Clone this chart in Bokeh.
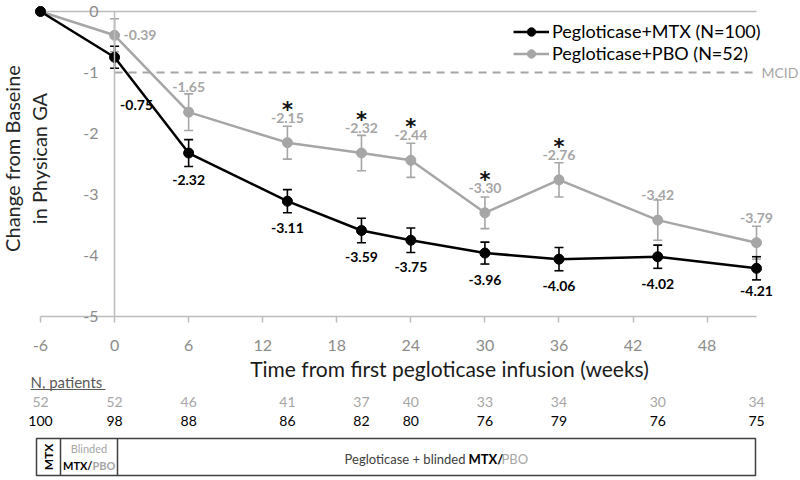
import math
from bokeh.plotting import figure
from bokeh.models import Range1d, FixedTicker, LinearAxis, Legend, LegendItem
from bokeh.core.properties import value
from bokeh.embed import file_html
from bokeh.resources import INLINE

# ---------------- data ----------------
weeks = [-6, 0, 6, 14, 20, 24, 30, 36, 44, 52]
mtx = [0, -0.75, -2.32, -3.11, -3.59, -3.75, -3.96, -4.06, -4.02, -4.21]
mtx_se = [0, 0.18, 0.22, 0.19, 0.20, 0.20, 0.18, 0.19, 0.19, 0.19]
pbo = [0, -0.39, -1.65, -2.15, -2.32, -2.44, -3.30, -2.76, -3.42, -3.79]
pbo_se = [0, 0.27, 0.30, 0.27, 0.29, 0.28, 0.26, 0.28, 0.33, 0.27]
sig_weeks = [14, 20, 24, 30, 36]
n_pbo = [52, 52, 46, 41, 37, 40, 33, 34, 30, 34]
n_mtx = [100, 98, 88, 86, 82, 80, 76, 79, 76, 75]
x_ticks = [-6, 0, 6, 12, 18, 24, 30, 36, 42, 48]
y_ticks = [0, -1, -2, -3, -4, -5]
mcid = -1
label_mtx = "Pegloticase+MTX (N=100)"
label_pbo = "Pegloticase+PBO (N=52)"
x_title = "Time from first pegloticase infusion (weeks)"
y_title = "Change from Baseine\nin Physican GA"

# ---------------- layout helpers (canvas pixel -> data) ----------------
W, H = 800, 480
PX = 12.345   # px per week
PY = 61.0     # px per unit
def px_x(px):
    return -6 + (px - 40) / PX
def px_y(py):
    return -(py - 11) / PY

FONT = value("Lato")
GRAY = "#a6a6a6"
AXG = "#bdbdbd"
TICKG = "#8c8c8c"

p = figure(width=W, height=H,
           x_range=Range1d(px_x(0), px_x(W)), y_range=Range1d(px_y(H), px_y(0)),
           min_border=0, toolbar_location=None, output_backend="svg",
           outline_line_color=None, x_axis_location=None, y_axis_location=None)
p.xgrid.visible = False
p.ygrid.visible = False

# axes
xaxis = LinearAxis(fixed_location=-5, bounds=(weeks[0], weeks[-1]),
                   ticker=FixedTicker(ticks=x_ticks))
xaxis.major_label_overrides = {t: str(t) for t in x_ticks}
xaxis.axis_line_color = AXG
xaxis.axis_line_width = 1.5
xaxis.major_tick_line_color = AXG
xaxis.major_tick_line_width = 1.5
xaxis.major_tick_out = 6
xaxis.major_tick_in = 0
xaxis.minor_tick_line_color = None
xaxis.major_label_standoff = 17
xaxis.major_label_text_font = "Lato"
xaxis.major_label_text_font_size = "16px"
xaxis.major_label_text_color = TICKG
p.add_layout(xaxis, "below")

yaxis = LinearAxis(fixed_location=0, bounds=(y_ticks[-1], y_ticks[0]),
                   ticker=FixedTicker(ticks=y_ticks))
yaxis.major_label_overrides = {t: str(t) for t in y_ticks}
yaxis.axis_line_color = AXG
yaxis.axis_line_width = 1.5
yaxis.major_tick_line_color = None
yaxis.major_tick_out = 0
yaxis.major_tick_in = 0
yaxis.minor_tick_line_color = None
yaxis.major_label_standoff = 16
yaxis.major_label_text_font = "Lato"
yaxis.major_label_text_font_size = "16px"
yaxis.major_label_text_color = TICKG
p.add_layout(yaxis, "left")

# axis titles
p.text(x=[px_x(449)], y=[px_y(368)], text=[x_title], text_align="center",
       text_baseline="middle", text_font=FONT, text_font_size="21px", text_color="#1a1a1a")
p.text(x=[px_x(25)], y=[px_y(158)], text=[y_title],
       angle=math.pi / 2, text_align="center", text_baseline="middle",
       text_font=FONT, text_font_size="20px", text_color="#262626", text_line_height=1.1)

# zero line and MCID
p.segment(x0=[weeks[0]], y0=[0], x1=[weeks[-1]], y1=[0], line_color=AXG, line_width=1.5)
p.segment(x0=[0], y0=[mcid], x1=[weeks[-1]], y1=[mcid], line_color=GRAY, line_width=2,
          line_dash="8 6")
p.text(x=[weeks[-1]], y=[mcid], text=["MCID"], x_offset=5, text_align="left",
       text_baseline="middle", text_font=FONT, text_font_size="14px", text_color=GRAY)

# series
def draw_series(vals, se, color, cap):
    xs = weeks[1:]
    lo = [v - s for v, s in zip(vals[1:], se[1:])]
    hi = [v + s for v, s in zip(vals[1:], se[1:])]
    p.segment(x0=xs, y0=lo, x1=xs, y1=hi, line_color=color, line_width=1.6)
    p.scatter(x=xs + xs, y=lo + hi, marker="dash", size=cap, line_color=color, line_width=1.6)
    ln = p.line(weeks, vals, line_color=color, line_width=2.5)
    pts = p.scatter(weeks, vals, marker="circle", size=10, fill_color=color, line_color=color)
    return ln, pts

pbo_ln, pbo_pts = draw_series(pbo, pbo_se, GRAY, 9)
mtx_ln, mtx_pts = draw_series(mtx, mtx_se, "black", 9)

# data labels
def fmt(v):
    return "%.2f" % v

LBL = dict(text_baseline="middle", text_font=FONT, text_font_size="14px", text_font_style="bold")
p.text(x=weeks[2:], y=pbo[2:], text=[fmt(v) for v in pbo[2:]], y_offset=-25,
       text_align="center", text_color=GRAY, **LBL)
p.text(x=[weeks[1]], y=[pbo[1]], text=[fmt(pbo[1])], x_offset=9,
       text_align="left", text_color=GRAY, **LBL)
p.text(x=weeks[2:-1], y=mtx[2:-1], text=[fmt(v) for v in mtx[2:-1]], y_offset=27,
       text_align="center", text_color="black", **LBL)
p.text(x=[weeks[1]], y=[mtx[1]], text=[fmt(mtx[1])], x_offset=22, y_offset=48,
       text_align="center", text_color="black", **LBL)
p.text(x=[weeks[-1]], y=[mtx[-1]], text=[fmt(mtx[-1])], y_offset=23,
       text_align="center", text_color="black", **LBL)

# significance asterisks
sig_y = [pbo[weeks.index(w)] for w in sig_weeks]
p.text(x=sig_weeks, y=sig_y, text=["*"] * len(sig_weeks), y_offset=-33,
       text_align="center", text_baseline="middle", text_font=value("DejaVu Sans"),
       text_font_size="21px", text_font_style="bold", text_color="#111111")

# legend (location = bottom-left corner, frame pixels from bottom-left)
legend = Legend(items=[LegendItem(label=label_mtx, renderers=[mtx_ln, mtx_pts]),
                       LegendItem(label=label_pbo, renderers=[pbo_ln, pbo_pts])],
                location=(513, H - 64), padding=0, margin=0, spacing=0,
                label_height=21, glyph_height=21, glyph_width=36, label_standoff=3,
                border_line_color=None, background_fill_alpha=0,
                label_text_font="Lato", label_text_font_size="18px", label_text_color="black")
p.add_layout(legend)

# patient numbers table
p.text(x=[px_x(30)], y=[px_y(381)], text=["N, patients"], text_align="left",
       text_baseline="middle", text_font=FONT, text_font_size="15px", text_color="#595959")
p.segment(x0=[px_x(30)], y0=[px_y(389)], x1=[px_x(105)], y1=[px_y(389)],
          line_color="#595959", line_width=1)
p.text(x=weeks, y=[px_y(401)] * len(weeks), text=[str(n) for n in n_pbo], text_align="center",
       text_baseline="middle", text_font=FONT, text_font_size="14px", text_color=GRAY)
p.text(x=weeks, y=[px_y(420)] * len(weeks), text=[str(n) for n in n_mtx], text_align="center",
       text_baseline="middle", text_font=FONT, text_font_size="14px", text_color="black")

# treatment-period box
BOXC = "#404040"
p.quad(left=[px_x(36)], right=[px_x(755)], top=[px_y(438)], bottom=[px_y(475)],
       fill_color=None, line_color=BOXC, line_width=1.5)
p.segment(x0=[px_x(60), px_x(117)], y0=[px_y(438)] * 2, x1=[px_x(60), px_x(117)],
          y1=[px_y(475)] * 2, line_color=BOXC, line_width=1.5)
p.text(x=[px_x(48)], y=[px_y(456.5)], text=["MTX"], angle=math.pi / 2, text_align="center",
       text_baseline="middle", text_font=FONT, text_font_size="12px", text_font_style="bold",
       text_color="black")
p.text(x=[px_x(88.5)], y=[px_y(448)], text=["Blinded"], text_align="center",
       text_baseline="middle", text_font=FONT, text_font_size="11px", text_color=GRAY)
p.text(x=[px_x(92)], y=[px_y(465)], text=["MTX/"], text_align="right",
       text_baseline="middle", text_font=FONT, text_font_size="11px", text_font_style="bold",
       text_color="black")
p.text(x=[px_x(92)], y=[px_y(465)], text=["PBO"], text_align="left",
       text_baseline="middle", text_font=FONT, text_font_size="11px", text_font_style="bold",
       text_color=GRAY)
p.text(x=[px_x(465)], y=[px_y(458)], text=["Pegloticase + blinded"], text_align="right",
       text_baseline="middle", text_font=FONT, text_font_size="13px", text_color="#404040")
p.text(x=[px_x(468)], y=[px_y(458)], text=["MTX/"], text_align="left",
       text_baseline="middle", text_font=FONT, text_font_size="13px", text_font_style="bold",
       text_color="black")
p.text(x=[px_x(501)], y=[px_y(458)], text=["PBO"], text_align="left",
       text_baseline="middle", text_font=FONT, text_font_size="13px", text_color=GRAY)

open("out.html", "w").write(file_html(p, INLINE))
